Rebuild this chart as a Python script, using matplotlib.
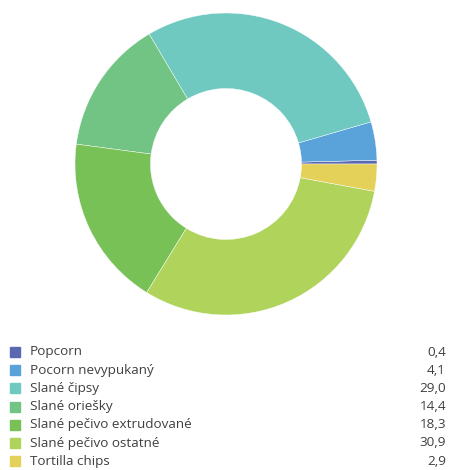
import matplotlib.pyplot as plt

kategorie = ['Popcorn', 'Pocorn nevypukaný', 'Slané čipsy', 'Slané oriešky',
             'Slané pečivo extrudované', 'Slané pečivo ostatné', 'Tortilla chips']
hodnoty = [0.4, 4.1, 29.0, 14.4, 18.3, 30.9, 2.9]
farby = ['#5a67b1', '#5aa2da', '#6fc9c0', '#71c483', '#78c156', '#b0d35c', '#e3d15a']

W, H = 449, 470
fig = plt.figure(figsize=(W / 100, H / 100), dpi=100)
plt.rcParams['font.family'] = ['Open Sans', 'DejaVu Sans']

# kolac (donut)
cx, cy, r = 226, 164, 151
ax = fig.add_axes([(cx - r) / W, (H - cy - r) / H, 2 * r / W, 2 * r / H])
ax.pie(hodnoty, colors=farby, startangle=0, counterclock=True, radius=1,
       wedgeprops=dict(width=0.5, edgecolor='white', linewidth=0.3))
ax.set_xlim(-1, 1)
ax.set_ylim(-1, 1)
ax.set_aspect('equal')
ax.axis('off')

# legenda
y0 = 352
krok = 18.2
for i, (k, h, f) in enumerate(zip(kategorie, hodnoty, farby)):
    y = 1 - (y0 + i * krok) / H
    fig.patches.append(plt.Rectangle((10 / W, y - 5 / H), 10 / W, 10 / H,
                                     transform=fig.transFigure, color=f))
    fig.text(30 / W, y, k, fontsize=9.7, color='#404040', va='center', ha='left')
    fig.text(446 / W, y, f'{h:.1f}'.replace('.', ','), fontsize=9.7,
             color='#404040', va='center', ha='right')

fig.savefig('out.png', dpi=100)
